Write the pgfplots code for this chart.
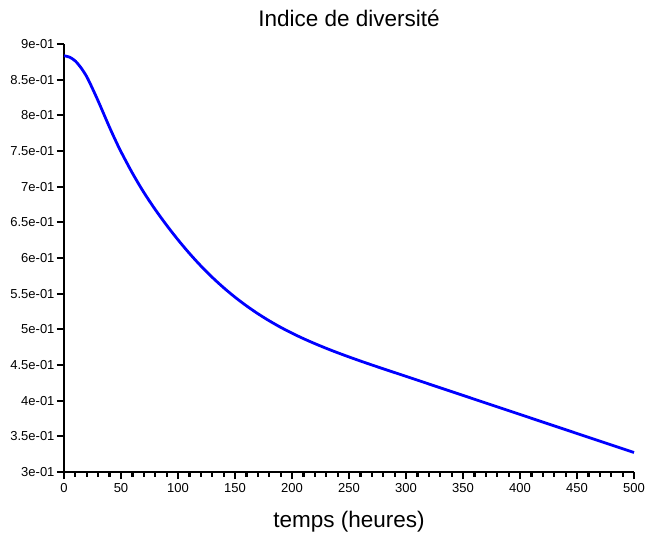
\documentclass[border=0pt]{standalone}
\usepackage{pgfplots}
\pgfplotsset{compat=1.18}
\usepackage{fontspec}
\setmainfont{Liberation Sans}
\begin{document}
\begin{tikzpicture}[x=1pt,y=1pt]
\path[use as bounding box] (-64,-63) rectangle (581,472);
\begin{axis}[
  at={(0,0)}, anchor=origin,
  scale only axis, width=570pt, height=428pt,
  xmin=0, xmax=500, ymin=0.3, ymax=0.9,
  axis x line*=bottom, axis y line*=left,
  axis line style={line width=2.6pt,-},
  tick align=outside,
  major tick length=7pt, minor tick length=4.5pt,
  every tick/.style={black, line width=2.2pt},
  xtick={0,50,...,500}, minor x tick num=4,
  ytick={0.3,0.35,...,0.91},
  yticklabels={3e-01,3.5e-01,4e-01,4.5e-01,5e-01,5.5e-01,6e-01,6.5e-01,7e-01,7.5e-01,8e-01,8.5e-01,9e-01},
  /pgf/number format/assume math mode=true,
  tick label style={font=\fontsize{13}{15}\selectfont},
  yticklabel style={xshift=1pt},
  xticklabel style={yshift=-1pt},
  title={Indice de diversité},
  title style={font=\fontsize{22.5}{26}\selectfont, yshift=8pt},
  xlabel={temps (heures)},
  xlabel style={font=\fontsize{22.5}{26}\selectfont, yshift=-12pt},
  clip=false,
]
\addplot[color={rgb,255:red,0;green,0;blue,255}, line width=2.8pt, smooth] coordinates {
(0,0.8835) (5,0.8815) (10,0.876) (15,0.8665) (20,0.854) (25,0.8375) (30,0.820)
(35,0.8015) (40,0.783) (45,0.7655) (50,0.749) (60,0.719) (70,0.692) (80,0.668)
(90,0.646) (100,0.6255) (110,0.6065) (120,0.589) (130,0.573) (140,0.5584)
(150,0.5451) (160,0.533) (170,0.522) (180,0.512) (190,0.5029) (200,0.4946)
(210,0.487) (220,0.480) (230,0.4734) (240,0.4672) (250,0.4613) (260,0.4556)
(270,0.4501) (280,0.4447) (290,0.4394) (300,0.4341) (325,0.42075) (350,0.4074)
(375,0.39405) (400,0.3807) (425,0.36735) (450,0.354) (475,0.34065) (500,0.3273)
};
\end{axis}
\end{tikzpicture}
\end{document}
